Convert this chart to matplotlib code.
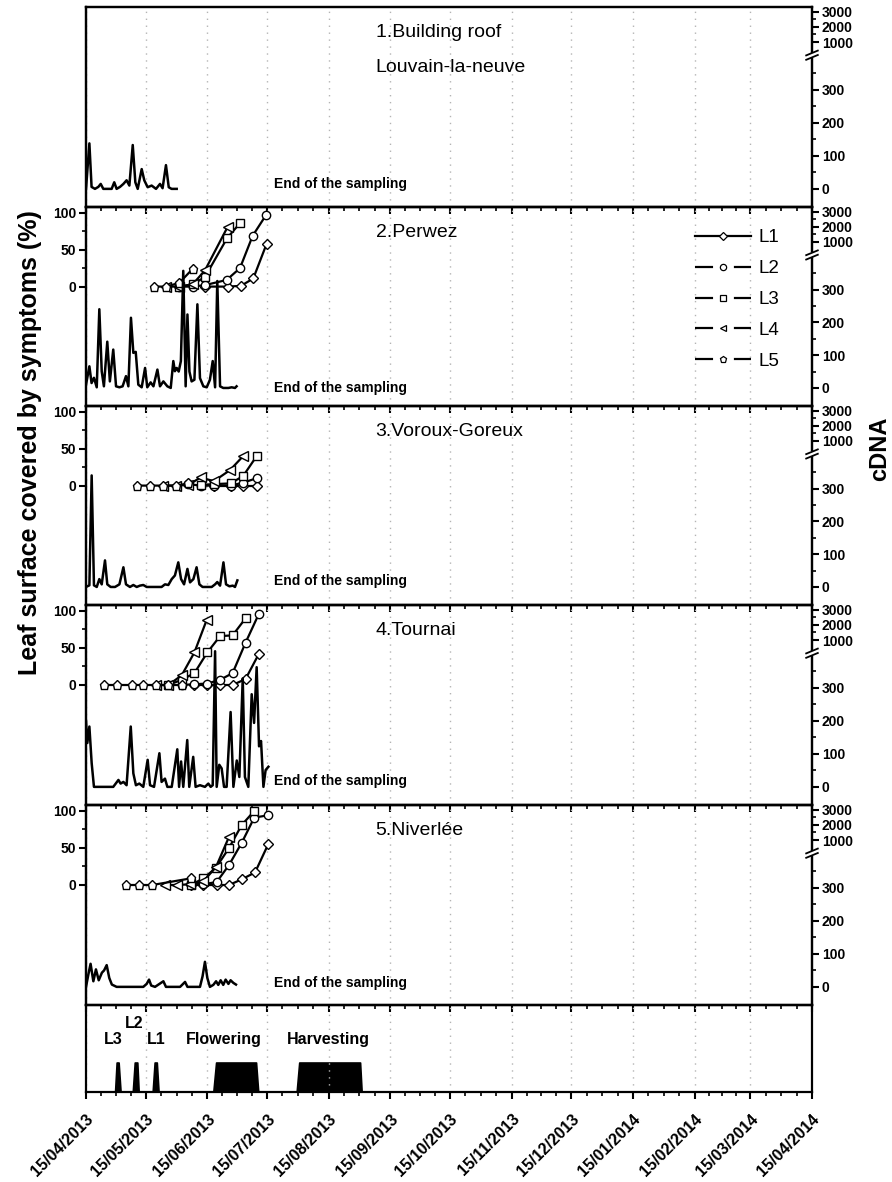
import numpy as np
import matplotlib.pyplot as plt
import matplotlib.dates as mdates
import matplotlib.ticker as mticker
from matplotlib.lines import Line2D
from datetime import datetime

plt.rcParams['font.family'] = ['Liberation Sans', 'DejaVu Sans']
plt.rcParams['font.weight'] = 'bold'
plt.rcParams['lines.scale_dashes'] = False

start = datetime(2013, 4, 15)
end = datetime(2014, 4, 15)

# ---------------- data (days after 15/04/2013) ----------------
titles = [['1.Building roof', 'Louvain-la-neuve'], ['2.Perwez'], ['3.Voroux-Goreux'],
          ['4.Tournai'], ['5.Niverlée']]

# cDNA traces
p1_day = [0, 1.7, 2.8, 4.5, 6.2, 7.4, 8.7, 10.4, 12.9, 14.2, 15.4, 17.1, 18.8, 20.4, 21.8,
          23.5, 24.8, 26.0, 28.0, 29.3, 31.0, 33.0, 35.2, 37.2, 38.5, 40.2, 41.6, 43.0, 45.6]
p1_cdna = [0, 138, 6, 0, 6, 15, 0, 0, 0, 20, 0, 6, 15, 26, 10,
           133, 20, 0, 60, 26, 5, 10, 0, 15, 2, 72, 5, 0, 0]

p2_day = [0, 1.7, 2.8, 4.0, 5.4, 6.7, 7.9, 9.0, 10.7, 12.0, 13.7, 15.1, 16.8, 18.4, 20.1,
          21.3, 22.6, 23.8, 25.0, 26.3, 28.0, 29.7, 30.8, 32.5, 33.9, 35.9, 37.2, 38.9, 40.9,
          42.6, 43.9, 44.7, 45.6, 46.6, 47.7, 48.9, 50.1, 51.0, 52.0, 53.1, 54.5, 56.0, 57.3,
          59.0, 60.7, 62.3, 63.7, 64.9, 66.0, 67.4, 69.0, 71.6, 73.2, 74.9, 75.7]
p2_cdna = [10, 66, 15, 31, 2, 240, 51, 5, 141, 20, 117, 5, 2, 5, 36,
           5, 214, 107, 110, 10, 2, 61, 2, 17, 5, 56, 5, 20, 5,
           0, 82, 51, 61, 50, 82, 357, 5, 224, 50, 20, 25, 255, 30,
           5, 2, 25, 82, 2, 326, 5, 0, 0, 2, 0, 5]

p3_day = [0, 1.7, 2.85, 4.0, 5.4, 6.7, 7.9, 9.55, 10.7, 12.4, 14.6, 16.8, 18.8, 20.1, 22.1,
          23.8, 25.5, 27.1, 28.8, 30.5, 33.0, 35.5, 38.0, 39.7, 41.4, 43.1, 44.7, 46.4, 47.8,
          49.3, 51.0, 52.3, 54.0, 55.6, 57.0, 58.6, 60.7, 63.2, 64.9, 66.0, 67.4, 69.1, 70.4,
          72.1, 73.8, 74.9, 76.1]
p3_cdna = [0, 5, 340, 5, 0, 24, 8, 81, 8, 0, 0, 8, 60, 8, 0,
           6, 0, 4, 6, 0, 0, 0, 0, 8, 6, 24, 35, 75, 24,
           8, 55, 14, 24, 60, 8, 0, 0, 0, 8, 15, 4, 75, 8,
           2, 4, 0, 20]

p4_day = [0, 0.67, 1.7, 2.85, 4.0, 6.2, 8.7, 11.2, 13.7, 16.3, 17.4, 18.8, 20.4, 22.5, 23.8,
          25.1, 26.8, 28.8, 31.0, 32.2, 34.2, 36.9, 38.0, 39.7, 40.9, 43.1, 45.9, 46.8, 47.8,
          48.9, 50.9, 51.9, 53.9, 55.1, 57.3, 59.8, 61.5, 62.7, 63.7, 64.9, 65.7, 67.0, 68.2,
          69.4, 70.7, 72.7, 74.1, 75.8, 77.1, 78.8, 79.9, 81.6, 83.3, 84.5, 85.8, 87.0, 88.0,
          89.2, 90.3, 91.7]
p4_cdna = [200, 133, 183, 72, 0, 0, 0, 0, 0, 21, 10, 15, 5, 183, 41,
           5, 10, 0, 82, 5, 0, 102, 15, 25, 0, 0, 114, 0, 77,
           0, 142, 0, 91, 0, 5, 0, 10, 0, 5, 550, 0, 67, 56,
           0, 0, 227, 0, 80, 30, 329, 30, 0, 281, 194, 363, 123, 139,
           0, 51, 61]

p5_day = [0, 1.2, 2.3, 3.7, 5.0, 6.4, 8.0, 9.1, 10.4, 11.7, 13.0, 15.4, 22.0, 28.8, 30.5,
          31.7, 32.8, 34.7, 38.9, 40.2, 47.3, 49.8, 51.0, 57.3, 58.6, 59.8, 61.0, 62.3, 64.0,
          65.4, 66.5, 67.7, 69.0, 70.2, 71.6, 72.7, 74.1, 75.4]
p5_cdna = [0, 38, 70, 17, 53, 20, 43, 50, 66, 27, 7, 0, 0, 0, 9,
           22, 4, 0, 17, 0, 0, 15, 0, 0, 32, 76, 27, 0, 6,
           17, 6, 20, 6, 22, 9, 20, 12, 7]

cdna_days = [p1_day, p2_day, p3_day, p4_day, p5_day]
cdna_vals = [p1_cdna, p2_cdna, p3_cdna, p4_cdna, p5_cdna]

# leaf surface covered by symptoms (%), leaf -> (days, percent)
perwez = {
    'L1': ([59.8, 71.2, 77.9, 84.1, 90.8], [0, 0, 1, 11, 58]),
    'L2': ([46.9, 53.6, 59.8, 70.7, 77.4, 83.8, 90.5], [0, 0, 2, 9, 25, 69, 97]),
    'L3': ([46.9, 53.6, 59.8, 71.0, 77.4], [0, 3, 13, 66, 86]),
    'L4': ([40.2, 46.9, 53.6, 59.8, 71.2], [0, 0, 3, 22, 81]),
    'L5': ([34.2, 40.2, 46.9, 53.6], [0, 0, 5, 24]),
}
voroux = {
    'L1': ([64.3, 72.7, 79.0, 85.8], [0, 0, 0, 0]),
    'L2': ([51.5, 57.6, 64.3, 72.7, 79.0, 85.8], [2, 0, 0, 0, 4, 10]),
    'L3': ([57.6, 64.3, 72.7, 79.0, 85.8], [1, 2, 3, 13, 40]),
    'L4': ([38.5, 45.2, 51.5, 57.6, 64.3, 72.4, 79.0], [0, 0, 1, 11, 6, 21, 40]),
    'L5': ([25.8, 32.2, 38.5, 45.2, 51.5], [0, 0, 0, 0, 3]),
}
tournai = {
    'L1': ([54.5, 61.0, 67.4, 73.7, 80.2, 86.9], [0, 0, 0, 0, 8, 42]),
    'L2': ([48.1, 54.5, 61.0, 67.4, 73.7, 80.2, 86.9], [0, 1, 2, 7, 16, 57, 96]),
    'L3': ([41.4, 48.1, 54.5, 61.0, 67.4, 73.7, 80.2], [0, 7, 16, 44, 66, 67, 90]),
    'L4': ([35.2, 41.4, 48.1, 54.5, 60.7], [0, 0, 13, 44, 88]),
    'L5': ([9.0, 15.7, 22.9, 28.8, 35.2, 41.4, 48.1], [0, 0, 0, 0, 0, 0, 0]),
}
niverlee = {
    'L1': ([52.8, 59.0, 65.7, 71.9, 78.6, 85.0, 91.6], [0, 0, 0, 0, 8, 17, 55]),
    'L2': ([52.8, 59.0, 65.7, 71.9, 78.3, 84.6, 91.3], [3, 1, 4, 27, 57, 91, 94]),
    'L3': ([52.8, 59.0, 65.3, 71.9, 78.3, 84.6], [0, 9, 23, 50, 81, 100]),
    'L4': ([39.7, 45.9, 52.3, 59.0, 65.3, 71.9], [0, 0, 1, 5, 24, 65]),
    'L5': ([20.1, 26.6, 33.3, 52.8], [0, 0, 0, 9]),
}
disease = [None, perwez, voroux, tournai, niverlee]

# phenology (L3, L2, L1 emergence, flowering, harvesting)
pheno_day = [0, 14.6, 15.4, 16.4, 17.4, 23.5, 24.5, 25.8, 26.5, 33.5, 34.5, 35.6, 36.5,
             64.0, 65.4, 85.5, 86.6, 105.9, 107.2, 137.8, 138.6, 365]
pheno_on = [0, 0, 1, 1, 0, 0, 1, 1, 0, 0, 1, 1, 0, 0, 1, 1, 0, 0, 1, 1, 0, 0]
pheno_labels = ['L3', 'L2', 'L1', 'Flowering', 'Harvesting']
pheno_label_day = [13.7, 24.1, 35.5, 69.4, 122.0]

# ---------------- styling ----------------
leaf_marker = {'L1': ('D', 5.5), 'L2': ('o', 6), 'L3': ('s', 5.5), 'L4': ('<', 6.5), 'L5': ('p', 6.5)}

W, H = 892, 1182
tops = [7, 207, 406, 605, 805, 1005]
bots = [207, 406, 605, 805, 1005, 1092]
x0, x1 = 86, 812

# broken cDNA axis: piecewise linear
vk = [-55, 400, 1000, 3333]
fk = [0.0, 0.75, 0.825, 1.0]
lo_slope = (fk[1] - fk[0]) / (vk[1] - vk[0])
hi_slope = (fk[3] - fk[2]) / (vk[3] - vk[2])
vk_ext = [-1e4] + vk + [1e5]
fk_ext = [fk[0] - (vk[0] + 1e4) * lo_slope] + fk + [fk[3] + (1e5 - vk[3]) * hi_slope]


def fwd(v):
    return np.interp(v, vk_ext, fk_ext)


def inv(f):
    return np.interp(f, fk_ext, vk_ext)


fig = plt.figure(figsize=(W / 100, H / 100), dpi=100)
t0 = mdates.date2num(start)
t1 = mdates.date2num(end)

major = mdates.date2num([datetime(2013 + (3 + m) // 12, (3 + m) % 12 + 1, 15) for m in range(13)])
minor = []
for a, b in zip(major[:-1], major[1:]):
    minor += [a + (b - a) * k / 4 for k in (1, 2, 3)]

end_y = [0.095, 0.07, 0.10, 0.10, 0.09]

axes = []
for i in range(6):
    ax = fig.add_axes([x0 / W, 1 - bots[i] / H, (x1 - x0) / W, (bots[i] - tops[i]) / H])
    ax.patch.set_visible(False)
    ax.set_xlim(t0, t1)
    ax.xaxis.set_major_locator(mticker.FixedLocator(major))
    ax.xaxis.set_minor_locator(mticker.FixedLocator(minor))
    ax.xaxis.set_major_formatter(mdates.DateFormatter('%d/%m/%Y'))
    ax.tick_params(axis='x', which='major', direction='out', length=5, width=1.5)
    ax.tick_params(axis='x', which='minor', direction='out', length=3, width=1.2)
    ax.grid(axis='x', which='major', color='#b4b4b4', linestyle=(0, (1, 4)), linewidth=1)
    for s in ax.spines.values():
        s.set_linewidth(1.6)
    if i < 5:
        ax.tick_params(axis='x', labelbottom=False)
    axes.append(ax)

for i in range(5):
    ax = axes[i]
    ax.set_ylim(-162, 108)
    if i == 0:
        ax.set_yticks([])
    else:
        ax.set_yticks([0, 50, 100])
        ax.set_yticks([25, 75], minor=True)
        ax.tick_params(axis='y', which='major', direction='out', length=5, width=1.5, labelsize=10, pad=2)
        ax.tick_params(axis='y', which='minor', direction='out', length=3, width=1.2)
        for leaf in ['L1', 'L2', 'L3', 'L4', 'L5']:
            d, v = disease[i][leaf]
            m, ms = leaf_marker[leaf]
            ax.plot(t0 + np.array(d), v, color='k', lw=1.6, marker=m, ms=ms,
                    mfc='white', mec='k', mew=1.0, zorder=3)

    ax2 = ax.twinx()
    ax2.set_yscale('function', functions=(fwd, inv))
    ax2.set_ylim(-55, 3333)
    ax2.set_yticks([0, 100, 200, 300, 1000, 2000, 3000])
    ax2.set_yticks([50, 150, 250, 350, 1500, 2500], minor=True)
    ax2.yaxis.set_major_formatter(mticker.FormatStrFormatter('%d'))
    ax2.yaxis.set_minor_formatter(mticker.NullFormatter())
    ax2.tick_params(axis='y', which='major', direction='out', length=5, width=1.5, labelsize=10, pad=2)
    ax2.tick_params(axis='y', which='minor', direction='out', length=3, width=1.2)
    for s in ax2.spines.values():
        s.set_linewidth(1.6)
    ax2.plot(t0 + np.array(cdna_days[i]), cdna_vals[i], color='k', lw=1.8, zorder=2)

    # axis break mark
    ax2.plot([1, 1], [0.747, 0.772], transform=ax2.transAxes, color='white', lw=3,
             clip_on=False, zorder=5, solid_capstyle='butt')
    for yb in (0.748, 0.770):
        ax2.plot([1 - 0.008, 1 + 0.008], [yb - 0.012, yb + 0.012], transform=ax2.transAxes,
                 color='k', lw=1.3, clip_on=False, zorder=6)

    for k, line in enumerate(titles[i]):
        ax.text(0.399, 0.848 - 0.172 * k, line, transform=ax.transAxes, fontsize=14,
                fontweight='normal', ha='left', va='baseline')
    ax.text(0.259, end_y[i], 'End of the sampling', transform=ax.transAxes, fontsize=10,
            ha='left', va='baseline')

# legend in panel 2
handles = []
for leaf in ['L1', 'L2', 'L3', 'L4', 'L5']:
    m, ms = leaf_marker[leaf]
    ls = '-' if leaf == 'L1' else (0, (13, 15))
    handles.append(Line2D([], [], color='k', lw=1.6, linestyle=ls, marker=m, ms=ms * 0.75,
                          mfc='white', mec='k', mew=0.9))
axes[1].legend(handles, ['L1', 'L2', 'L3', 'L4', 'L5'], loc='center left',
               bbox_to_anchor=(0.839, 0.535), frameon=False, borderpad=0, borderaxespad=0,
               handlelength=3.0, handletextpad=0.4, labelspacing=0.73,
               prop={'size': 13.5, 'weight': 'normal'})

# phenology panel
ax6 = axes[5]
ax6.fill_between(t0 + np.array(pheno_day), 0, pheno_on, color='k', lw=1.2, edgecolor='k')
ax6.set_ylim(0, 2.95)
ax6.set_yticks([])
ax6.tick_params(axis='x', labelsize=11.5, pad=9)
for lab in ax6.get_xticklabels():
    lab.set_rotation(45)
    lab.set_ha('right')
    lab.set_rotation_mode('anchor')
lab_y = [0.598, 0.793, 0.598, 0.598, 0.598]
for name, d, yy in zip(pheno_labels, pheno_label_day, lab_y):
    ax6.text(t0 + d, yy, name, transform=ax6.get_xaxis_transform(), fontsize=11.5,
             ha='center', va='center')

fig.text(0.034, 0.626, 'Leaf surface covered by symptoms (%)', rotation=90, fontsize=18,
         ha='center', va='center')
fig.text(0.986, 0.62, 'cDNA', rotation=90, fontsize=17, ha='center', va='center')

fig.savefig('out.png', dpi=100)
